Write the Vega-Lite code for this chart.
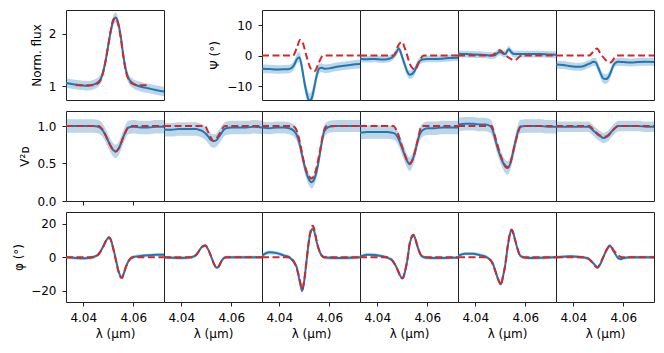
{
"$schema":"https://vega.github.io/schema/vega-lite/v6.json",
"padding":{"left":12,"top":9,"right":5,"bottom":5},
"columns":6,
"spacing":{"row":11,"column":0},
"bounds":"flush",
"config":{"font":"DejaVu Sans","view":{"stroke":"#222","strokeWidth":1},
"axis":{"grid":false,"domain":false,"tickColor":"#222","tickSize":4,"tickWidth":1,"labelColor":"#000","labelFont":"DejaVu Sans","labelFontSize":12,"labelPadding":6,"titleColor":"#000","titleFont":"DejaVu Sans","titleFontSize":12,"titleFontWeight":"normal","titlePadding":5}},
"data":{"values":[
{"p":"F","s":"o","x":4.0331,"y":1.06,"e":0.09},{"p":"F","s":"o","x":4.036,"y":1.04,"e":0.09},{"p":"F","s":"o","x":4.039,"y":1.02,"e":0.09},{"p":"F","s":"o","x":4.042,"y":1.01,"e":0.09},{"p":"F","s":"o","x":4.044,"y":1.03,"e":0.09},{"p":"F","s":"o","x":4.046,"y":1.08,"e":0.09},{"p":"F","s":"o","x":4.047,"y":1.14,"e":0.09},{"p":"F","s":"o","x":4.048,"y":1.28,"e":0.09},{"p":"F","s":"o","x":4.049,"y":1.5,"e":0.09},{"p":"F","s":"o","x":4.05,"y":1.78,"e":0.1},{"p":"F","s":"o","x":4.051,"y":2.05,"e":0.1},{"p":"F","s":"o","x":4.052,"y":2.25,"e":0.1},{"p":"F","s":"o","x":4.053,"y":2.31,"e":0.1},{"p":"F","s":"o","x":4.054,"y":2.2,"e":0.1},{"p":"F","s":"o","x":4.055,"y":1.95,"e":0.1},{"p":"F","s":"o","x":4.056,"y":1.6,"e":0.09},{"p":"F","s":"o","x":4.057,"y":1.32,"e":0.09},{"p":"F","s":"o","x":4.058,"y":1.16,"e":0.09},{"p":"F","s":"o","x":4.06,"y":1.05,"e":0.09},{"p":"F","s":"o","x":4.063,"y":0.99,"e":0.09},{"p":"F","s":"o","x":4.066,"y":0.96,"e":0.09},{"p":"F","s":"o","x":4.069,"y":0.93,"e":0.09},{"p":"F","s":"o","x":4.0723,"y":0.9,"e":0.09},
{"p":"F","s":"f","x":4.037,"y":1.02},{"p":"F","s":"f","x":4.044,"y":1.02},{"p":"F","s":"f","x":4.046,"y":1.06},{"p":"F","s":"f","x":4.047,"y":1.12},{"p":"F","s":"f","x":4.048,"y":1.27},{"p":"F","s":"f","x":4.049,"y":1.5},{"p":"F","s":"f","x":4.05,"y":1.78},{"p":"F","s":"f","x":4.051,"y":2.06},{"p":"F","s":"f","x":4.052,"y":2.26},{"p":"F","s":"f","x":4.053,"y":2.3},{"p":"F","s":"f","x":4.054,"y":2.18},{"p":"F","s":"f","x":4.055,"y":1.92},{"p":"F","s":"f","x":4.056,"y":1.58},{"p":"F","s":"f","x":4.057,"y":1.3},{"p":"F","s":"f","x":4.058,"y":1.14},{"p":"F","s":"f","x":4.06,"y":1.04},{"p":"F","s":"f","x":4.062,"y":1.02},{"p":"F","s":"f","x":4.0667,"y":1.02},
{"p":"P1","s":"o","x":4.0331,"y":-4.3,"e":1.4},{"p":"P1","s":"o","x":4.036,"y":-4.4,"e":1.4},{"p":"P1","s":"o","x":4.039,"y":-4.6,"e":1.4},{"p":"P1","s":"o","x":4.042,"y":-4.5,"e":1.4},{"p":"P1","s":"o","x":4.044,"y":-4.4,"e":1.4},{"p":"P1","s":"o","x":4.046,"y":-3.0,"e":1.5},{"p":"P1","s":"o","x":4.047,"y":-1.2,"e":1.6},{"p":"P1","s":"o","x":4.048,"y":-0.5,"e":1.7},{"p":"P1","s":"o","x":4.049,"y":-3.5,"e":1.9},{"p":"P1","s":"o","x":4.05,"y":-8.5,"e":2.2},{"p":"P1","s":"o","x":4.051,"y":-12.5,"e":2.4},{"p":"P1","s":"o","x":4.052,"y":-14.8,"e":2.4},{"p":"P1","s":"o","x":4.053,"y":-14,"e":2.4},{"p":"P1","s":"o","x":4.054,"y":-10.5,"e":2.2},{"p":"P1","s":"o","x":4.055,"y":-6.5,"e":1.9},{"p":"P1","s":"o","x":4.056,"y":-4.2,"e":1.6},{"p":"P1","s":"o","x":4.057,"y":-4.0,"e":1.4},{"p":"P1","s":"o","x":4.058,"y":-4.3,"e":1.4},{"p":"P1","s":"o","x":4.06,"y":-4.2,"e":1.4},{"p":"P1","s":"o","x":4.063,"y":-3.7,"e":1.4},{"p":"P1","s":"o","x":4.066,"y":-3.3,"e":1.4},{"p":"P1","s":"o","x":4.069,"y":-3.0,"e":1.4},{"p":"P1","s":"o","x":4.0723,"y":-2.8,"e":1.4},
{"p":"P1","s":"f","x":4.0331,"y":0},{"p":"P1","s":"f","x":4.0455,"y":0},{"p":"P1","s":"f","x":4.047,"y":2.5},{"p":"P1","s":"f","x":4.0484,"y":5.2},{"p":"P1","s":"f","x":4.0495,"y":4},{"p":"P1","s":"f","x":4.051,"y":-0.5},{"p":"P1","s":"f","x":4.0528,"y":-4.5},{"p":"P1","s":"f","x":4.0542,"y":-5.1},{"p":"P1","s":"f","x":4.0555,"y":-3},{"p":"P1","s":"f","x":4.0575,"y":0},{"p":"P1","s":"f","x":4.0723,"y":0},
{"p":"P2","s":"o","x":4.0331,"y":-1.0,"e":1.1},{"p":"P2","s":"o","x":4.036,"y":-1.2,"e":1.1},{"p":"P2","s":"o","x":4.039,"y":-1.1,"e":1.1},{"p":"P2","s":"o","x":4.042,"y":-1.3,"e":1.1},{"p":"P2","s":"o","x":4.044,"y":-1.2,"e":1.1},{"p":"P2","s":"o","x":4.046,"y":-0.6,"e":1.1},{"p":"P2","s":"o","x":4.047,"y":0.3,"e":1.2},{"p":"P2","s":"o","x":4.048,"y":1.6,"e":1.2},{"p":"P2","s":"o","x":4.0486,"y":2.3,"e":1.2},{"p":"P2","s":"o","x":4.05,"y":-0.5,"e":1.3},{"p":"P2","s":"o","x":4.051,"y":-3.0,"e":1.4},{"p":"P2","s":"o","x":4.052,"y":-5.3,"e":1.4},{"p":"P2","s":"o","x":4.053,"y":-6.3,"e":1.4},{"p":"P2","s":"o","x":4.054,"y":-6.0,"e":1.4},{"p":"P2","s":"o","x":4.055,"y":-5.0,"e":1.4},{"p":"P2","s":"o","x":4.056,"y":-3.0,"e":1.3},{"p":"P2","s":"o","x":4.057,"y":-1.8,"e":1.2},{"p":"P2","s":"o","x":4.058,"y":-1.3,"e":1.1},{"p":"P2","s":"o","x":4.06,"y":-1.1,"e":1.1},{"p":"P2","s":"o","x":4.063,"y":-1.1,"e":1.1},{"p":"P2","s":"o","x":4.066,"y":-1.0,"e":1.1},{"p":"P2","s":"o","x":4.069,"y":-0.8,"e":1.1},{"p":"P2","s":"o","x":4.0723,"y":-0.7,"e":1.1},
{"p":"P2","s":"f","x":4.0331,"y":0},{"p":"P2","s":"f","x":4.0466,"y":0},{"p":"P2","s":"f","x":4.0485,"y":3.5},{"p":"P2","s":"f","x":4.0499,"y":4.5},{"p":"P2","s":"f","x":4.051,"y":2.5},{"p":"P2","s":"f","x":4.0535,"y":-3.5},{"p":"P2","s":"f","x":4.0552,"y":-4.6},{"p":"P2","s":"f","x":4.057,"y":-1.5},{"p":"P2","s":"f","x":4.0586,"y":0},{"p":"P2","s":"f","x":4.0723,"y":0},
{"p":"P3","s":"o","x":4.0331,"y":0.6,"e":1.1},{"p":"P3","s":"o","x":4.036,"y":0.5,"e":1.1},{"p":"P3","s":"o","x":4.039,"y":0.4,"e":1.1},{"p":"P3","s":"o","x":4.042,"y":0.3,"e":1.1},{"p":"P3","s":"o","x":4.044,"y":0.2,"e":1.1},{"p":"P3","s":"o","x":4.046,"y":0.0,"e":1.1},{"p":"P3","s":"o","x":4.047,"y":0.0,"e":1.1},{"p":"P3","s":"o","x":4.048,"y":0.2,"e":1.1},{"p":"P3","s":"o","x":4.049,"y":0.9,"e":1.1},{"p":"P3","s":"o","x":4.05,"y":1.2,"e":1.1},{"p":"P3","s":"o","x":4.051,"y":0.7,"e":1.1},{"p":"P3","s":"o","x":4.052,"y":0.5,"e":1.1},{"p":"P3","s":"o","x":4.053,"y":1.8,"e":1.1},{"p":"P3","s":"o","x":4.0535,"y":2.1,"e":1.1},{"p":"P3","s":"o","x":4.054,"y":1.6,"e":1.1},{"p":"P3","s":"o","x":4.055,"y":0.7,"e":1.1},{"p":"P3","s":"o","x":4.056,"y":0.5,"e":1.1},{"p":"P3","s":"o","x":4.058,"y":0.5,"e":1.1},{"p":"P3","s":"o","x":4.06,"y":0.5,"e":1.1},{"p":"P3","s":"o","x":4.063,"y":0.5,"e":1.1},{"p":"P3","s":"o","x":4.066,"y":0.5,"e":1.1},{"p":"P3","s":"o","x":4.069,"y":0.4,"e":1.1},{"p":"P3","s":"o","x":4.0723,"y":0.3,"e":1.1},
{"p":"P3","s":"f","x":4.0331,"y":0},{"p":"P3","s":"f","x":4.0464,"y":0},{"p":"P3","s":"f","x":4.0498,"y":1.8},{"p":"P3","s":"f","x":4.052,"y":0.2},{"p":"P3","s":"f","x":4.0558,"y":-1.5},{"p":"P3","s":"f","x":4.0585,"y":0},{"p":"P3","s":"f","x":4.0723,"y":0},
{"p":"P4","s":"o","x":4.0331,"y":-2.9,"e":1.3},{"p":"P4","s":"o","x":4.036,"y":-3.1,"e":1.3},{"p":"P4","s":"o","x":4.039,"y":-3.5,"e":1.3},{"p":"P4","s":"o","x":4.042,"y":-3.7,"e":1.3},{"p":"P4","s":"o","x":4.044,"y":-3.5,"e":1.3},{"p":"P4","s":"o","x":4.046,"y":-2.8,"e":1.3},{"p":"P4","s":"o","x":4.047,"y":-2.5,"e":1.3},{"p":"P4","s":"o","x":4.048,"y":-2.0,"e":1.3},{"p":"P4","s":"o","x":4.049,"y":-2.2,"e":1.4},{"p":"P4","s":"o","x":4.05,"y":-4.0,"e":1.5},{"p":"P4","s":"o","x":4.051,"y":-6.0,"e":1.6},{"p":"P4","s":"o","x":4.052,"y":-7.5,"e":1.6},{"p":"P4","s":"o","x":4.053,"y":-7.7,"e":1.6},{"p":"P4","s":"o","x":4.054,"y":-7.2,"e":1.6},{"p":"P4","s":"o","x":4.055,"y":-5.5,"e":1.5},{"p":"P4","s":"o","x":4.056,"y":-3.3,"e":1.4},{"p":"P4","s":"o","x":4.057,"y":-2.3,"e":1.3},{"p":"P4","s":"o","x":4.058,"y":-2.0,"e":1.3},{"p":"P4","s":"o","x":4.06,"y":-2.1,"e":1.3},{"p":"P4","s":"o","x":4.063,"y":-2.3,"e":1.3},{"p":"P4","s":"o","x":4.066,"y":-2.1,"e":1.3},{"p":"P4","s":"o","x":4.069,"y":-2.0,"e":1.3},{"p":"P4","s":"o","x":4.0723,"y":-2.1,"e":1.3},
{"p":"P4","s":"f","x":4.0331,"y":0},{"p":"P4","s":"f","x":4.0462,"y":0},{"p":"P4","s":"f","x":4.0495,"y":2.3},{"p":"P4","s":"f","x":4.051,"y":0.5},{"p":"P4","s":"f","x":4.0548,"y":-2.3},{"p":"P4","s":"f","x":4.0575,"y":0},{"p":"P4","s":"f","x":4.0723,"y":0},
{"p":"V1","s":"o","x":4.0331,"y":1.0,"e":0.09},{"p":"V1","s":"o","x":4.036,"y":1.0,"e":0.09},{"p":"V1","s":"o","x":4.039,"y":1.0,"e":0.09},{"p":"V1","s":"o","x":4.042,"y":1.0,"e":0.09},{"p":"V1","s":"o","x":4.044,"y":1.0,"e":0.09},{"p":"V1","s":"o","x":4.046,"y":0.99,"e":0.09},{"p":"V1","s":"o","x":4.047,"y":0.97,"e":0.09},{"p":"V1","s":"o","x":4.048,"y":0.93,"e":0.09},{"p":"V1","s":"o","x":4.049,"y":0.87,"e":0.09},{"p":"V1","s":"o","x":4.05,"y":0.8,"e":0.09},{"p":"V1","s":"o","x":4.051,"y":0.73,"e":0.09},{"p":"V1","s":"o","x":4.052,"y":0.68,"e":0.09},{"p":"V1","s":"o","x":4.053,"y":0.66,"e":0.09},{"p":"V1","s":"o","x":4.054,"y":0.69,"e":0.09},{"p":"V1","s":"o","x":4.055,"y":0.76,"e":0.09},{"p":"V1","s":"o","x":4.056,"y":0.85,"e":0.09},{"p":"V1","s":"o","x":4.057,"y":0.93,"e":0.09},{"p":"V1","s":"o","x":4.058,"y":0.98,"e":0.09},{"p":"V1","s":"o","x":4.06,"y":0.99,"e":0.09},{"p":"V1","s":"o","x":4.063,"y":0.98,"e":0.09},{"p":"V1","s":"o","x":4.066,"y":0.98,"e":0.09},{"p":"V1","s":"o","x":4.069,"y":0.99,"e":0.09},{"p":"V1","s":"o","x":4.0723,"y":0.99,"e":0.09},
{"p":"V1","s":"f","x":4.0331,"y":1.0},{"p":"V1","s":"f","x":4.046,"y":1.0},{"p":"V1","s":"f","x":4.048,"y":0.94},{"p":"V1","s":"f","x":4.05,"y":0.8},{"p":"V1","s":"f","x":4.052,"y":0.68},{"p":"V1","s":"f","x":4.053,"y":0.66},{"p":"V1","s":"f","x":4.054,"y":0.69},{"p":"V1","s":"f","x":4.056,"y":0.85},{"p":"V1","s":"f","x":4.058,"y":0.98},{"p":"V1","s":"f","x":4.0595,"y":1.0},{"p":"V1","s":"f","x":4.0723,"y":1.0},
{"p":"V2","s":"o","x":4.0331,"y":0.95,"e":0.09},{"p":"V2","s":"o","x":4.036,"y":0.95,"e":0.09},{"p":"V2","s":"o","x":4.039,"y":0.96,"e":0.09},{"p":"V2","s":"o","x":4.042,"y":0.96,"e":0.09},{"p":"V2","s":"o","x":4.044,"y":0.96,"e":0.09},{"p":"V2","s":"o","x":4.046,"y":0.96,"e":0.09},{"p":"V2","s":"o","x":4.047,"y":0.95,"e":0.09},{"p":"V2","s":"o","x":4.048,"y":0.94,"e":0.09},{"p":"V2","s":"o","x":4.049,"y":0.92,"e":0.09},{"p":"V2","s":"o","x":4.05,"y":0.89,"e":0.09},{"p":"V2","s":"o","x":4.051,"y":0.85,"e":0.09},{"p":"V2","s":"o","x":4.052,"y":0.81,"e":0.09},{"p":"V2","s":"o","x":4.053,"y":0.8,"e":0.09},{"p":"V2","s":"o","x":4.054,"y":0.81,"e":0.09},{"p":"V2","s":"o","x":4.055,"y":0.85,"e":0.09},{"p":"V2","s":"o","x":4.056,"y":0.9,"e":0.09},{"p":"V2","s":"o","x":4.057,"y":0.95,"e":0.09},{"p":"V2","s":"o","x":4.058,"y":0.97,"e":0.09},{"p":"V2","s":"o","x":4.06,"y":0.98,"e":0.09},{"p":"V2","s":"o","x":4.063,"y":0.98,"e":0.09},{"p":"V2","s":"o","x":4.066,"y":0.98,"e":0.09},{"p":"V2","s":"o","x":4.069,"y":0.99,"e":0.09},{"p":"V2","s":"o","x":4.0723,"y":0.98,"e":0.09},
{"p":"V2","s":"f","x":4.0331,"y":1.0},{"p":"V2","s":"f","x":4.0495,"y":1.0},{"p":"V2","s":"f","x":4.051,"y":0.9},{"p":"V2","s":"f","x":4.053,"y":0.8},{"p":"V2","s":"f","x":4.055,"y":0.88},{"p":"V2","s":"f","x":4.0575,"y":1.0},{"p":"V2","s":"f","x":4.0723,"y":1.0},
{"p":"V3","s":"o","x":4.0331,"y":0.98,"e":0.08},{"p":"V3","s":"o","x":4.036,"y":0.97,"e":0.08},{"p":"V3","s":"o","x":4.039,"y":0.98,"e":0.08},{"p":"V3","s":"o","x":4.042,"y":0.98,"e":0.08},{"p":"V3","s":"o","x":4.044,"y":0.97,"e":0.08},{"p":"V3","s":"o","x":4.046,"y":0.93,"e":0.08},{"p":"V3","s":"o","x":4.047,"y":0.88,"e":0.08},{"p":"V3","s":"o","x":4.048,"y":0.78,"e":0.08},{"p":"V3","s":"o","x":4.049,"y":0.63,"e":0.08},{"p":"V3","s":"o","x":4.05,"y":0.48,"e":0.08},{"p":"V3","s":"o","x":4.051,"y":0.36,"e":0.08},{"p":"V3","s":"o","x":4.052,"y":0.28,"e":0.08},{"p":"V3","s":"o","x":4.053,"y":0.25,"e":0.08},{"p":"V3","s":"o","x":4.054,"y":0.29,"e":0.08},{"p":"V3","s":"o","x":4.055,"y":0.4,"e":0.08},{"p":"V3","s":"o","x":4.056,"y":0.58,"e":0.08},{"p":"V3","s":"o","x":4.057,"y":0.78,"e":0.08},{"p":"V3","s":"o","x":4.058,"y":0.93,"e":0.08},{"p":"V3","s":"o","x":4.06,"y":0.99,"e":0.08},{"p":"V3","s":"o","x":4.063,"y":1.0,"e":0.08},{"p":"V3","s":"o","x":4.066,"y":1.0,"e":0.08},{"p":"V3","s":"o","x":4.069,"y":1.0,"e":0.08},{"p":"V3","s":"o","x":4.0723,"y":1.0,"e":0.08},
{"p":"V3","s":"f","x":4.0331,"y":1.0},{"p":"V3","s":"f","x":4.045,"y":1.0},{"p":"V3","s":"f","x":4.0465,"y":0.97},{"p":"V3","s":"f","x":4.048,"y":0.82},{"p":"V3","s":"f","x":4.05,"y":0.5},{"p":"V3","s":"f","x":4.052,"y":0.32},{"p":"V3","s":"f","x":4.053,"y":0.3},{"p":"V3","s":"f","x":4.054,"y":0.34},{"p":"V3","s":"f","x":4.056,"y":0.62},{"p":"V3","s":"f","x":4.058,"y":0.95},{"p":"V3","s":"f","x":4.059,"y":1.0},{"p":"V3","s":"f","x":4.0723,"y":1.0},
{"p":"V4","s":"o","x":4.0331,"y":0.91,"e":0.09},{"p":"V4","s":"o","x":4.036,"y":0.92,"e":0.09},{"p":"V4","s":"o","x":4.039,"y":0.92,"e":0.09},{"p":"V4","s":"o","x":4.042,"y":0.92,"e":0.09},{"p":"V4","s":"o","x":4.044,"y":0.92,"e":0.09},{"p":"V4","s":"o","x":4.046,"y":0.91,"e":0.09},{"p":"V4","s":"o","x":4.047,"y":0.9,"e":0.09},{"p":"V4","s":"o","x":4.048,"y":0.86,"e":0.09},{"p":"V4","s":"o","x":4.049,"y":0.79,"e":0.09},{"p":"V4","s":"o","x":4.05,"y":0.7,"e":0.09},{"p":"V4","s":"o","x":4.051,"y":0.61,"e":0.09},{"p":"V4","s":"o","x":4.052,"y":0.53,"e":0.09},{"p":"V4","s":"o","x":4.053,"y":0.49,"e":0.09},{"p":"V4","s":"o","x":4.054,"y":0.54,"e":0.09},{"p":"V4","s":"o","x":4.055,"y":0.64,"e":0.09},{"p":"V4","s":"o","x":4.056,"y":0.78,"e":0.09},{"p":"V4","s":"o","x":4.057,"y":0.89,"e":0.09},{"p":"V4","s":"o","x":4.058,"y":0.94,"e":0.09},{"p":"V4","s":"o","x":4.06,"y":0.97,"e":0.09},{"p":"V4","s":"o","x":4.063,"y":0.97,"e":0.09},{"p":"V4","s":"o","x":4.066,"y":0.98,"e":0.09},{"p":"V4","s":"o","x":4.069,"y":0.98,"e":0.09},{"p":"V4","s":"o","x":4.0723,"y":0.98,"e":0.09},
{"p":"V4","s":"f","x":4.0331,"y":1.0},{"p":"V4","s":"f","x":4.0464,"y":1.0},{"p":"V4","s":"f","x":4.048,"y":0.92},{"p":"V4","s":"f","x":4.05,"y":0.72},{"p":"V4","s":"f","x":4.052,"y":0.54},{"p":"V4","s":"f","x":4.053,"y":0.5},{"p":"V4","s":"f","x":4.054,"y":0.54},{"p":"V4","s":"f","x":4.056,"y":0.78},{"p":"V4","s":"f","x":4.0578,"y":1.0},{"p":"V4","s":"f","x":4.0723,"y":1.0},
{"p":"V5","s":"o","x":4.0331,"y":1.02,"e":0.09},{"p":"V5","s":"o","x":4.036,"y":1.03,"e":0.09},{"p":"V5","s":"o","x":4.039,"y":1.03,"e":0.09},{"p":"V5","s":"o","x":4.042,"y":1.02,"e":0.09},{"p":"V5","s":"o","x":4.044,"y":1.02,"e":0.09},{"p":"V5","s":"o","x":4.046,"y":1.0,"e":0.09},{"p":"V5","s":"o","x":4.047,"y":0.94,"e":0.09},{"p":"V5","s":"o","x":4.048,"y":0.82,"e":0.09},{"p":"V5","s":"o","x":4.049,"y":0.7,"e":0.09},{"p":"V5","s":"o","x":4.05,"y":0.6,"e":0.09},{"p":"V5","s":"o","x":4.051,"y":0.52,"e":0.09},{"p":"V5","s":"o","x":4.052,"y":0.46,"e":0.09},{"p":"V5","s":"o","x":4.053,"y":0.44,"e":0.09},{"p":"V5","s":"o","x":4.054,"y":0.5,"e":0.09},{"p":"V5","s":"o","x":4.055,"y":0.63,"e":0.09},{"p":"V5","s":"o","x":4.056,"y":0.78,"e":0.09},{"p":"V5","s":"o","x":4.057,"y":0.92,"e":0.09},{"p":"V5","s":"o","x":4.058,"y":0.99,"e":0.09},{"p":"V5","s":"o","x":4.06,"y":1.0,"e":0.09},{"p":"V5","s":"o","x":4.063,"y":1.0,"e":0.09},{"p":"V5","s":"o","x":4.066,"y":1.0,"e":0.09},{"p":"V5","s":"o","x":4.069,"y":0.99,"e":0.09},{"p":"V5","s":"o","x":4.0723,"y":0.99,"e":0.09},
{"p":"V5","s":"f","x":4.0331,"y":1.0},{"p":"V5","s":"f","x":4.0465,"y":1.0},{"p":"V5","s":"f","x":4.048,"y":0.85},{"p":"V5","s":"f","x":4.05,"y":0.62},{"p":"V5","s":"f","x":4.052,"y":0.47},{"p":"V5","s":"f","x":4.053,"y":0.45},{"p":"V5","s":"f","x":4.054,"y":0.5},{"p":"V5","s":"f","x":4.056,"y":0.78},{"p":"V5","s":"f","x":4.0585,"y":1.0},{"p":"V5","s":"f","x":4.0723,"y":1.0},
{"p":"V6","s":"o","x":4.0331,"y":0.99,"e":0.07},{"p":"V6","s":"o","x":4.036,"y":0.99,"e":0.07},{"p":"V6","s":"o","x":4.039,"y":0.99,"e":0.07},{"p":"V6","s":"o","x":4.042,"y":0.99,"e":0.07},{"p":"V6","s":"o","x":4.044,"y":0.99,"e":0.07},{"p":"V6","s":"o","x":4.046,"y":0.99,"e":0.07},{"p":"V6","s":"o","x":4.047,"y":0.97,"e":0.07},{"p":"V6","s":"o","x":4.048,"y":0.94,"e":0.07},{"p":"V6","s":"o","x":4.049,"y":0.91,"e":0.07},{"p":"V6","s":"o","x":4.05,"y":0.88,"e":0.07},{"p":"V6","s":"o","x":4.051,"y":0.86,"e":0.07},{"p":"V6","s":"o","x":4.052,"y":0.84,"e":0.07},{"p":"V6","s":"o","x":4.053,"y":0.85,"e":0.07},{"p":"V6","s":"o","x":4.054,"y":0.87,"e":0.07},{"p":"V6","s":"o","x":4.055,"y":0.91,"e":0.07},{"p":"V6","s":"o","x":4.056,"y":0.95,"e":0.07},{"p":"V6","s":"o","x":4.057,"y":0.98,"e":0.07},{"p":"V6","s":"o","x":4.058,"y":1.0,"e":0.07},{"p":"V6","s":"o","x":4.06,"y":1.0,"e":0.07},{"p":"V6","s":"o","x":4.063,"y":1.0,"e":0.07},{"p":"V6","s":"o","x":4.066,"y":1.0,"e":0.07},{"p":"V6","s":"o","x":4.069,"y":0.99,"e":0.07},{"p":"V6","s":"o","x":4.0723,"y":0.99,"e":0.07},
{"p":"V6","s":"f","x":4.0331,"y":1.0},{"p":"V6","s":"f","x":4.0465,"y":1.0},{"p":"V6","s":"f","x":4.048,"y":0.95},{"p":"V6","s":"f","x":4.05,"y":0.89},{"p":"V6","s":"f","x":4.052,"y":0.86},{"p":"V6","s":"f","x":4.053,"y":0.86},{"p":"V6","s":"f","x":4.054,"y":0.88},{"p":"V6","s":"f","x":4.056,"y":0.95},{"p":"V6","s":"f","x":4.058,"y":1.0},{"p":"V6","s":"f","x":4.0723,"y":1.0},
{"p":"H1","s":"o","x":4.0331,"y":0,"e":1},{"p":"H1","s":"o","x":4.036,"y":-0.3,"e":1},{"p":"H1","s":"o","x":4.039,"y":-0.6,"e":1},{"p":"H1","s":"o","x":4.042,"y":-0.4,"e":1},{"p":"H1","s":"o","x":4.044,"y":0.2,"e":1},{"p":"H1","s":"o","x":4.046,"y":1.8,"e":1},{"p":"H1","s":"o","x":4.047,"y":3.8,"e":1},{"p":"H1","s":"o","x":4.048,"y":6.5,"e":1},{"p":"H1","s":"o","x":4.049,"y":9.5,"e":1},{"p":"H1","s":"o","x":4.05,"y":11.5,"e":1},{"p":"H1","s":"o","x":4.0505,"y":11.6,"e":1},{"p":"H1","s":"o","x":4.051,"y":10.5,"e":1},{"p":"H1","s":"o","x":4.052,"y":5.5,"e":1},{"p":"H1","s":"o","x":4.053,"y":-1,"e":1},{"p":"H1","s":"o","x":4.054,"y":-7.5,"e":1},{"p":"H1","s":"o","x":4.055,"y":-11.5,"e":1},{"p":"H1","s":"o","x":4.0555,"y":-12,"e":1},{"p":"H1","s":"o","x":4.056,"y":-10.5,"e":1},{"p":"H1","s":"o","x":4.057,"y":-6,"e":1},{"p":"H1","s":"o","x":4.058,"y":-2.5,"e":1},{"p":"H1","s":"o","x":4.06,"y":0.2,"e":1},{"p":"H1","s":"o","x":4.063,"y":0.8,"e":1},{"p":"H1","s":"o","x":4.066,"y":1.2,"e":1},{"p":"H1","s":"o","x":4.069,"y":1.5,"e":1},{"p":"H1","s":"o","x":4.0723,"y":1.6,"e":1},
{"p":"H1","s":"f","x":4.0331,"y":0},{"p":"H1","s":"f","x":4.044,"y":0},{"p":"H1","s":"f","x":4.046,"y":1.5},{"p":"H1","s":"f","x":4.048,"y":6.5},{"p":"H1","s":"f","x":4.0495,"y":11},{"p":"H1","s":"f","x":4.0503,"y":12},{"p":"H1","s":"f","x":4.051,"y":10.5},{"p":"H1","s":"f","x":4.052,"y":5},{"p":"H1","s":"f","x":4.053,"y":-1.5},{"p":"H1","s":"f","x":4.054,"y":-8},{"p":"H1","s":"f","x":4.055,"y":-12},{"p":"H1","s":"f","x":4.0555,"y":-12.3},{"p":"H1","s":"f","x":4.056,"y":-10.5},{"p":"H1","s":"f","x":4.057,"y":-6},{"p":"H1","s":"f","x":4.058,"y":-2.5},{"p":"H1","s":"f","x":4.06,"y":0},{"p":"H1","s":"f","x":4.0723,"y":0},
{"p":"H2","s":"o","x":4.0331,"y":0,"e":1},{"p":"H2","s":"o","x":4.036,"y":-0.2,"e":1},{"p":"H2","s":"o","x":4.039,"y":-0.4,"e":1},{"p":"H2","s":"o","x":4.042,"y":-0.3,"e":1},{"p":"H2","s":"o","x":4.044,"y":0,"e":1},{"p":"H2","s":"o","x":4.046,"y":1.5,"e":1},{"p":"H2","s":"o","x":4.047,"y":3.5,"e":1},{"p":"H2","s":"o","x":4.048,"y":5.8,"e":1},{"p":"H2","s":"o","x":4.049,"y":6.8,"e":1},{"p":"H2","s":"o","x":4.0497,"y":7,"e":1},{"p":"H2","s":"o","x":4.05,"y":6.5,"e":1},{"p":"H2","s":"o","x":4.051,"y":4,"e":1},{"p":"H2","s":"o","x":4.052,"y":0.3,"e":1},{"p":"H2","s":"o","x":4.053,"y":-3.5,"e":1},{"p":"H2","s":"o","x":4.054,"y":-6,"e":1},{"p":"H2","s":"o","x":4.0545,"y":-6.1,"e":1},{"p":"H2","s":"o","x":4.055,"y":-5.5,"e":1},{"p":"H2","s":"o","x":4.056,"y":-2.5,"e":1},{"p":"H2","s":"o","x":4.057,"y":-0.5,"e":1},{"p":"H2","s":"o","x":4.058,"y":0,"e":1},{"p":"H2","s":"o","x":4.06,"y":0,"e":1},{"p":"H2","s":"o","x":4.063,"y":0,"e":1},{"p":"H2","s":"o","x":4.066,"y":0,"e":1},{"p":"H2","s":"o","x":4.069,"y":0,"e":1},{"p":"H2","s":"o","x":4.0723,"y":0,"e":1},
{"p":"H2","s":"f","x":4.0331,"y":0},{"p":"H2","s":"f","x":4.044,"y":0},{"p":"H2","s":"f","x":4.046,"y":1.5},{"p":"H2","s":"f","x":4.048,"y":5.8},{"p":"H2","s":"f","x":4.0497,"y":7},{"p":"H2","s":"f","x":4.051,"y":4},{"p":"H2","s":"f","x":4.052,"y":0.3},{"p":"H2","s":"f","x":4.054,"y":-6},{"p":"H2","s":"f","x":4.0545,"y":-6.1},{"p":"H2","s":"f","x":4.056,"y":-2.5},{"p":"H2","s":"f","x":4.058,"y":0},{"p":"H2","s":"f","x":4.0723,"y":0},
{"p":"H3","s":"o","x":4.0331,"y":1,"e":1.1},{"p":"H3","s":"o","x":4.036,"y":3,"e":1.1},{"p":"H3","s":"o","x":4.039,"y":2.5,"e":1.1},{"p":"H3","s":"o","x":4.042,"y":1,"e":1.1},{"p":"H3","s":"o","x":4.044,"y":0,"e":1.1},{"p":"H3","s":"o","x":4.046,"y":-3,"e":1.1},{"p":"H3","s":"o","x":4.047,"y":-6,"e":1.1},{"p":"H3","s":"o","x":4.048,"y":-13,"e":1.1},{"p":"H3","s":"o","x":4.049,"y":-19.5,"e":1.1},{"p":"H3","s":"o","x":4.0492,"y":-20,"e":1.1},{"p":"H3","s":"o","x":4.05,"y":-14,"e":1.1},{"p":"H3","s":"o","x":4.051,"y":-1,"e":1.1},{"p":"H3","s":"o","x":4.052,"y":11,"e":1.1},{"p":"H3","s":"o","x":4.053,"y":16.5,"e":1.1},{"p":"H3","s":"o","x":4.0535,"y":17,"e":1.1},{"p":"H3","s":"o","x":4.054,"y":15.5,"e":1.1},{"p":"H3","s":"o","x":4.055,"y":9,"e":1.1},{"p":"H3","s":"o","x":4.056,"y":4,"e":1.1},{"p":"H3","s":"o","x":4.057,"y":1,"e":1.1},{"p":"H3","s":"o","x":4.058,"y":0,"e":1.1},{"p":"H3","s":"o","x":4.06,"y":-0.3,"e":1.1},{"p":"H3","s":"o","x":4.063,"y":-0.4,"e":1.1},{"p":"H3","s":"o","x":4.066,"y":-0.4,"e":1.1},{"p":"H3","s":"o","x":4.069,"y":-0.2,"e":1.1},{"p":"H3","s":"o","x":4.0723,"y":0,"e":1.1},
{"p":"H3","s":"f","x":4.0331,"y":0},{"p":"H3","s":"f","x":4.044,"y":0},{"p":"H3","s":"f","x":4.046,"y":-3},{"p":"H3","s":"f","x":4.048,"y":-12},{"p":"H3","s":"f","x":4.049,"y":-18.5},{"p":"H3","s":"f","x":4.0492,"y":-19},{"p":"H3","s":"f","x":4.05,"y":-13.5},{"p":"H3","s":"f","x":4.051,"y":-1},{"p":"H3","s":"f","x":4.052,"y":11.5},{"p":"H3","s":"f","x":4.053,"y":18},{"p":"H3","s":"f","x":4.0535,"y":18.8},{"p":"H3","s":"f","x":4.054,"y":17},{"p":"H3","s":"f","x":4.055,"y":9.5},{"p":"H3","s":"f","x":4.056,"y":4},{"p":"H3","s":"f","x":4.057,"y":1},{"p":"H3","s":"f","x":4.058,"y":0},{"p":"H3","s":"f","x":4.0723,"y":0},
{"p":"H4","s":"o","x":4.0331,"y":0.4,"e":1},{"p":"H4","s":"o","x":4.036,"y":1.6,"e":1},{"p":"H4","s":"o","x":4.039,"y":1.4,"e":1},{"p":"H4","s":"o","x":4.042,"y":0.6,"e":1},{"p":"H4","s":"o","x":4.044,"y":-0.2,"e":1},{"p":"H4","s":"o","x":4.046,"y":-1.8,"e":1},{"p":"H4","s":"o","x":4.047,"y":-4,"e":1},{"p":"H4","s":"o","x":4.048,"y":-7,"e":1},{"p":"H4","s":"o","x":4.049,"y":-10.5,"e":1},{"p":"H4","s":"o","x":4.05,"y":-12.4,"e":1},{"p":"H4","s":"o","x":4.0505,"y":-12,"e":1},{"p":"H4","s":"o","x":4.051,"y":-9,"e":1},{"p":"H4","s":"o","x":4.052,"y":-2,"e":1},{"p":"H4","s":"o","x":4.053,"y":8,"e":1},{"p":"H4","s":"o","x":4.054,"y":12.5,"e":1},{"p":"H4","s":"o","x":4.0545,"y":13,"e":1},{"p":"H4","s":"o","x":4.055,"y":12,"e":1},{"p":"H4","s":"o","x":4.056,"y":7,"e":1},{"p":"H4","s":"o","x":4.057,"y":2.5,"e":1},{"p":"H4","s":"o","x":4.058,"y":0.5,"e":1},{"p":"H4","s":"o","x":4.06,"y":-0.3,"e":1},{"p":"H4","s":"o","x":4.063,"y":-0.4,"e":1},{"p":"H4","s":"o","x":4.066,"y":-0.4,"e":1},{"p":"H4","s":"o","x":4.069,"y":-0.3,"e":1},{"p":"H4","s":"o","x":4.0723,"y":-0.2,"e":1},
{"p":"H4","s":"f","x":4.0331,"y":0},{"p":"H4","s":"f","x":4.044,"y":0},{"p":"H4","s":"f","x":4.046,"y":-1.8},{"p":"H4","s":"f","x":4.048,"y":-7},{"p":"H4","s":"f","x":4.05,"y":-12.5},{"p":"H4","s":"f","x":4.051,"y":-9},{"p":"H4","s":"f","x":4.052,"y":-2},{"p":"H4","s":"f","x":4.053,"y":8.5},{"p":"H4","s":"f","x":4.0545,"y":13.5},{"p":"H4","s":"f","x":4.056,"y":7},{"p":"H4","s":"f","x":4.058,"y":0.5},{"p":"H4","s":"f","x":4.06,"y":0},{"p":"H4","s":"f","x":4.0723,"y":0},
{"p":"H5","s":"o","x":4.0331,"y":1,"e":1},{"p":"H5","s":"o","x":4.036,"y":2.2,"e":1},{"p":"H5","s":"o","x":4.039,"y":2.2,"e":1},{"p":"H5","s":"o","x":4.042,"y":1.3,"e":1},{"p":"H5","s":"o","x":4.044,"y":0.5,"e":1},{"p":"H5","s":"o","x":4.046,"y":-1.5,"e":1},{"p":"H5","s":"o","x":4.047,"y":-3.5,"e":1},{"p":"H5","s":"o","x":4.048,"y":-8,"e":1},{"p":"H5","s":"o","x":4.049,"y":-12.5,"e":1},{"p":"H5","s":"o","x":4.05,"y":-15.5,"e":1},{"p":"H5","s":"o","x":4.0503,"y":-16,"e":1},{"p":"H5","s":"o","x":4.051,"y":-12,"e":1},{"p":"H5","s":"o","x":4.052,"y":-4.5,"e":1},{"p":"H5","s":"o","x":4.053,"y":6.5,"e":1},{"p":"H5","s":"o","x":4.054,"y":14.5,"e":1},{"p":"H5","s":"o","x":4.0545,"y":16.4,"e":1},{"p":"H5","s":"o","x":4.055,"y":15.5,"e":1},{"p":"H5","s":"o","x":4.056,"y":10,"e":1},{"p":"H5","s":"o","x":4.057,"y":4.5,"e":1},{"p":"H5","s":"o","x":4.058,"y":1,"e":1},{"p":"H5","s":"o","x":4.06,"y":-0.3,"e":1},{"p":"H5","s":"o","x":4.063,"y":-0.4,"e":1},{"p":"H5","s":"o","x":4.066,"y":-0.3,"e":1},{"p":"H5","s":"o","x":4.069,"y":-0.1,"e":1},{"p":"H5","s":"o","x":4.0723,"y":0,"e":1},
{"p":"H5","s":"f","x":4.0331,"y":0},{"p":"H5","s":"f","x":4.044,"y":0},{"p":"H5","s":"f","x":4.046,"y":-1.5},{"p":"H5","s":"f","x":4.048,"y":-8},{"p":"H5","s":"f","x":4.05,"y":-16},{"p":"H5","s":"f","x":4.0503,"y":-16.6},{"p":"H5","s":"f","x":4.051,"y":-12},{"p":"H5","s":"f","x":4.052,"y":-4.5},{"p":"H5","s":"f","x":4.053,"y":7},{"p":"H5","s":"f","x":4.0545,"y":16.5},{"p":"H5","s":"f","x":4.056,"y":10},{"p":"H5","s":"f","x":4.058,"y":1},{"p":"H5","s":"f","x":4.06,"y":0},{"p":"H5","s":"f","x":4.0723,"y":0},
{"p":"H6","s":"o","x":4.0331,"y":0,"e":1},{"p":"H6","s":"o","x":4.036,"y":0.4,"e":1},{"p":"H6","s":"o","x":4.039,"y":0.6,"e":1},{"p":"H6","s":"o","x":4.042,"y":0.3,"e":1},{"p":"H6","s":"o","x":4.044,"y":0,"e":1},{"p":"H6","s":"o","x":4.046,"y":-0.8,"e":1},{"p":"H6","s":"o","x":4.047,"y":-2,"e":1},{"p":"H6","s":"o","x":4.048,"y":-3.5,"e":1},{"p":"H6","s":"o","x":4.049,"y":-5.2,"e":1},{"p":"H6","s":"o","x":4.0496,"y":-6,"e":1},{"p":"H6","s":"o","x":4.05,"y":-5.8,"e":1},{"p":"H6","s":"o","x":4.051,"y":-3.5,"e":1},{"p":"H6","s":"o","x":4.052,"y":0,"e":1},{"p":"H6","s":"o","x":4.053,"y":3.5,"e":1},{"p":"H6","s":"o","x":4.054,"y":6,"e":1},{"p":"H6","s":"o","x":4.0546,"y":7,"e":1},{"p":"H6","s":"o","x":4.055,"y":6.5,"e":1},{"p":"H6","s":"o","x":4.056,"y":4,"e":1},{"p":"H6","s":"o","x":4.057,"y":1.5,"e":1},{"p":"H6","s":"o","x":4.058,"y":-0.5,"e":1},{"p":"H6","s":"o","x":4.059,"y":-1,"e":1},{"p":"H6","s":"o","x":4.06,"y":-0.5,"e":1},{"p":"H6","s":"o","x":4.063,"y":0,"e":1},{"p":"H6","s":"o","x":4.066,"y":0,"e":1},{"p":"H6","s":"o","x":4.069,"y":0,"e":1},{"p":"H6","s":"o","x":4.0723,"y":0,"e":1},
{"p":"H6","s":"f","x":4.0331,"y":0},{"p":"H6","s":"f","x":4.045,"y":0},{"p":"H6","s":"f","x":4.047,"y":-2},{"p":"H6","s":"f","x":4.049,"y":-5.5},{"p":"H6","s":"f","x":4.0496,"y":-6},{"p":"H6","s":"f","x":4.051,"y":-3},{"p":"H6","s":"f","x":4.052,"y":0.3},{"p":"H6","s":"f","x":4.054,"y":6},{"p":"H6","s":"f","x":4.0548,"y":7},{"p":"H6","s":"f","x":4.056,"y":4.5},{"p":"H6","s":"f","x":4.0575,"y":2},{"p":"H6","s":"f","x":4.059,"y":0.3},{"p":"H6","s":"f","x":4.06,"y":0},{"p":"H6","s":"f","x":4.0723,"y":0}
]},
"concat":[
{"width":98,"height":90,"transform":[{"filter":"datum.p=='F'"}],
"encoding":{"x":{"field":"x","type":"quantitative","scale":{"domain":[4.0331,4.0723],"nice":false,"zero":false},"axis":null},"y":{"field":"y","type":"quantitative","scale":{"domain":[0.738,2.453],"nice":false,"zero":false},"axis":{"title":"Norm. flux","values":[1,2],"format":"d"}}},
"layer":[
{"transform":[{"filter":"datum.s=='o'"}],"mark":{"type":"errorband","color":"#1f77b4","opacity":0.3,"interpolate":"monotone","clip":true},"encoding":{"yError":{"field":"e"}}},
{"transform":[{"filter":"datum.s=='o'"}],"mark":{"type":"line","color":"#1f77b4","strokeWidth":2,"interpolate":"monotone","clip":true},"encoding":{}},
{"transform":[{"filter":"datum.s=='f'"}],"mark":{"type":"line","color":"#d62728","strokeWidth":2,"strokeDash":[7,3.5],"interpolate":"monotone","clip":true},"encoding":{}}]},
{"width":98,"height":90,"view":{"stroke":null},"transform":[{"filter":"false"}],"mark":{"type":"point","opacity":0},"encoding":{}},
{"width":98,"height":90,"transform":[{"filter":"datum.p=='P1'"}],
"encoding":{"x":{"field":"x","type":"quantitative","scale":{"domain":[4.0331,4.0723],"nice":false,"zero":false},"axis":null},"y":{"field":"y","type":"quantitative","scale":{"domain":[-14.6,15],"nice":false,"zero":false},"axis":{"title":"Ψ (°)","values":[-10,0,10]}}},
"layer":[
{"transform":[{"filter":"datum.s=='o'"}],"mark":{"type":"errorband","color":"#1f77b4","opacity":0.3,"interpolate":"monotone","clip":true},"encoding":{"yError":{"field":"e"}}},
{"transform":[{"filter":"datum.s=='o'"}],"mark":{"type":"line","color":"#1f77b4","strokeWidth":2,"interpolate":"monotone","clip":true},"encoding":{}},
{"transform":[{"filter":"datum.s=='f'"}],"mark":{"type":"line","color":"#d62728","strokeWidth":2,"strokeDash":[7,3.5],"interpolate":"monotone","clip":true},"encoding":{}}]},
{"width":98,"height":90,"transform":[{"filter":"datum.p=='P2'"}],
"encoding":{"x":{"field":"x","type":"quantitative","scale":{"domain":[4.0331,4.0723],"nice":false,"zero":false},"axis":null},"y":{"field":"y","type":"quantitative","scale":{"domain":[-14.6,15],"nice":false,"zero":false},"axis":null}},
"layer":[
{"transform":[{"filter":"datum.s=='o'"}],"mark":{"type":"errorband","color":"#1f77b4","opacity":0.3,"interpolate":"monotone","clip":true},"encoding":{"yError":{"field":"e"}}},
{"transform":[{"filter":"datum.s=='o'"}],"mark":{"type":"line","color":"#1f77b4","strokeWidth":2,"interpolate":"monotone","clip":true},"encoding":{}},
{"transform":[{"filter":"datum.s=='f'"}],"mark":{"type":"line","color":"#d62728","strokeWidth":2,"strokeDash":[7,3.5],"interpolate":"monotone","clip":true},"encoding":{}}]},
{"width":98,"height":90,"transform":[{"filter":"datum.p=='P3'"}],
"encoding":{"x":{"field":"x","type":"quantitative","scale":{"domain":[4.0331,4.0723],"nice":false,"zero":false},"axis":null},"y":{"field":"y","type":"quantitative","scale":{"domain":[-14.6,15],"nice":false,"zero":false},"axis":null}},
"layer":[
{"transform":[{"filter":"datum.s=='o'"}],"mark":{"type":"errorband","color":"#1f77b4","opacity":0.3,"interpolate":"monotone","clip":true},"encoding":{"yError":{"field":"e"}}},
{"transform":[{"filter":"datum.s=='o'"}],"mark":{"type":"line","color":"#1f77b4","strokeWidth":2,"interpolate":"monotone","clip":true},"encoding":{}},
{"transform":[{"filter":"datum.s=='f'"}],"mark":{"type":"line","color":"#d62728","strokeWidth":2,"strokeDash":[7,3.5],"interpolate":"monotone","clip":true},"encoding":{}}]},
{"width":98,"height":90,"transform":[{"filter":"datum.p=='P4'"}],
"encoding":{"x":{"field":"x","type":"quantitative","scale":{"domain":[4.0331,4.0723],"nice":false,"zero":false},"axis":null},"y":{"field":"y","type":"quantitative","scale":{"domain":[-14.6,15],"nice":false,"zero":false},"axis":null}},
"layer":[
{"transform":[{"filter":"datum.s=='o'"}],"mark":{"type":"errorband","color":"#1f77b4","opacity":0.3,"interpolate":"monotone","clip":true},"encoding":{"yError":{"field":"e"}}},
{"transform":[{"filter":"datum.s=='o'"}],"mark":{"type":"line","color":"#1f77b4","strokeWidth":2,"interpolate":"monotone","clip":true},"encoding":{}},
{"transform":[{"filter":"datum.s=='f'"}],"mark":{"type":"line","color":"#d62728","strokeWidth":2,"strokeDash":[7,3.5],"interpolate":"monotone","clip":true},"encoding":{}}]},
{"width":98,"height":90,"transform":[{"filter":"datum.p=='V1'"}],
"encoding":{"x":{"field":"x","type":"quantitative","scale":{"domain":[4.0331,4.0723],"nice":false,"zero":false},"axis":{"values":[4.04,4.06],"labels":false,"title":null}},"y":{"field":"y","type":"quantitative","scale":{"domain":[0,1.2],"nice":false,"zero":false},"axis":{"title":"V²ᴅ","values":[0,0.5,1],"format":".1f"}}},
"layer":[
{"transform":[{"filter":"datum.s=='o'"}],"mark":{"type":"errorband","color":"#1f77b4","opacity":0.3,"interpolate":"monotone","clip":true},"encoding":{"yError":{"field":"e"}}},
{"transform":[{"filter":"datum.s=='o'"}],"mark":{"type":"line","color":"#1f77b4","strokeWidth":2,"interpolate":"monotone","clip":true},"encoding":{}},
{"transform":[{"filter":"datum.s=='f'"}],"mark":{"type":"line","color":"#d62728","strokeWidth":2,"strokeDash":[7,3.5],"interpolate":"monotone","clip":true},"encoding":{}}]},
{"width":98,"height":90,"transform":[{"filter":"datum.p=='V2'"}],
"encoding":{"x":{"field":"x","type":"quantitative","scale":{"domain":[4.0331,4.0723],"nice":false,"zero":false},"axis":null},"y":{"field":"y","type":"quantitative","scale":{"domain":[0,1.2],"nice":false,"zero":false},"axis":null}},
"layer":[
{"transform":[{"filter":"datum.s=='o'"}],"mark":{"type":"errorband","color":"#1f77b4","opacity":0.3,"interpolate":"monotone","clip":true},"encoding":{"yError":{"field":"e"}}},
{"transform":[{"filter":"datum.s=='o'"}],"mark":{"type":"line","color":"#1f77b4","strokeWidth":2,"interpolate":"monotone","clip":true},"encoding":{}},
{"transform":[{"filter":"datum.s=='f'"}],"mark":{"type":"line","color":"#d62728","strokeWidth":2,"strokeDash":[7,3.5],"interpolate":"monotone","clip":true},"encoding":{}}]},
{"width":98,"height":90,"transform":[{"filter":"datum.p=='V3'"}],
"encoding":{"x":{"field":"x","type":"quantitative","scale":{"domain":[4.0331,4.0723],"nice":false,"zero":false},"axis":null},"y":{"field":"y","type":"quantitative","scale":{"domain":[0,1.2],"nice":false,"zero":false},"axis":null}},
"layer":[
{"transform":[{"filter":"datum.s=='o'"}],"mark":{"type":"errorband","color":"#1f77b4","opacity":0.3,"interpolate":"monotone","clip":true},"encoding":{"yError":{"field":"e"}}},
{"transform":[{"filter":"datum.s=='o'"}],"mark":{"type":"line","color":"#1f77b4","strokeWidth":2,"interpolate":"monotone","clip":true},"encoding":{}},
{"transform":[{"filter":"datum.s=='f'"}],"mark":{"type":"line","color":"#d62728","strokeWidth":2,"strokeDash":[7,3.5],"interpolate":"monotone","clip":true},"encoding":{}}]},
{"width":98,"height":90,"transform":[{"filter":"datum.p=='V4'"}],
"encoding":{"x":{"field":"x","type":"quantitative","scale":{"domain":[4.0331,4.0723],"nice":false,"zero":false},"axis":null},"y":{"field":"y","type":"quantitative","scale":{"domain":[0,1.2],"nice":false,"zero":false},"axis":null}},
"layer":[
{"transform":[{"filter":"datum.s=='o'"}],"mark":{"type":"errorband","color":"#1f77b4","opacity":0.3,"interpolate":"monotone","clip":true},"encoding":{"yError":{"field":"e"}}},
{"transform":[{"filter":"datum.s=='o'"}],"mark":{"type":"line","color":"#1f77b4","strokeWidth":2,"interpolate":"monotone","clip":true},"encoding":{}},
{"transform":[{"filter":"datum.s=='f'"}],"mark":{"type":"line","color":"#d62728","strokeWidth":2,"strokeDash":[7,3.5],"interpolate":"monotone","clip":true},"encoding":{}}]},
{"width":98,"height":90,"transform":[{"filter":"datum.p=='V5'"}],
"encoding":{"x":{"field":"x","type":"quantitative","scale":{"domain":[4.0331,4.0723],"nice":false,"zero":false},"axis":null},"y":{"field":"y","type":"quantitative","scale":{"domain":[0,1.2],"nice":false,"zero":false},"axis":null}},
"layer":[
{"transform":[{"filter":"datum.s=='o'"}],"mark":{"type":"errorband","color":"#1f77b4","opacity":0.3,"interpolate":"monotone","clip":true},"encoding":{"yError":{"field":"e"}}},
{"transform":[{"filter":"datum.s=='o'"}],"mark":{"type":"line","color":"#1f77b4","strokeWidth":2,"interpolate":"monotone","clip":true},"encoding":{}},
{"transform":[{"filter":"datum.s=='f'"}],"mark":{"type":"line","color":"#d62728","strokeWidth":2,"strokeDash":[7,3.5],"interpolate":"monotone","clip":true},"encoding":{}}]},
{"width":98,"height":90,"transform":[{"filter":"datum.p=='V6'"}],
"encoding":{"x":{"field":"x","type":"quantitative","scale":{"domain":[4.0331,4.0723],"nice":false,"zero":false},"axis":null},"y":{"field":"y","type":"quantitative","scale":{"domain":[0,1.2],"nice":false,"zero":false},"axis":null}},
"layer":[
{"transform":[{"filter":"datum.s=='o'"}],"mark":{"type":"errorband","color":"#1f77b4","opacity":0.3,"interpolate":"monotone","clip":true},"encoding":{"yError":{"field":"e"}}},
{"transform":[{"filter":"datum.s=='o'"}],"mark":{"type":"line","color":"#1f77b4","strokeWidth":2,"interpolate":"monotone","clip":true},"encoding":{}},
{"transform":[{"filter":"datum.s=='f'"}],"mark":{"type":"line","color":"#d62728","strokeWidth":2,"strokeDash":[7,3.5],"interpolate":"monotone","clip":true},"encoding":{}}]},
{"width":98,"height":90,"transform":[{"filter":"datum.p=='H1'"}],
"encoding":{"x":{"field":"x","type":"quantitative","scale":{"domain":[4.0331,4.0723],"nice":false,"zero":false},"axis":{"values":[4.04,4.06],"format":".2f","title":"λ (μm)"}},"y":{"field":"y","type":"quantitative","scale":{"domain":[-26.6,27],"nice":false,"zero":false},"axis":{"title":"φ (°)","values":[-20,0,20]}}},
"layer":[
{"transform":[{"filter":"datum.s=='o'"}],"mark":{"type":"errorband","color":"#1f77b4","opacity":0.3,"interpolate":"monotone","clip":true},"encoding":{"yError":{"field":"e"}}},
{"transform":[{"filter":"datum.s=='o'"}],"mark":{"type":"line","color":"#1f77b4","strokeWidth":2,"interpolate":"monotone","clip":true},"encoding":{}},
{"transform":[{"filter":"datum.s=='f'"}],"mark":{"type":"line","color":"#d62728","strokeWidth":2,"strokeDash":[7,3.5],"interpolate":"monotone","clip":true},"encoding":{}}]},
{"width":98,"height":90,"transform":[{"filter":"datum.p=='H2'"}],
"encoding":{"x":{"field":"x","type":"quantitative","scale":{"domain":[4.0331,4.0723],"nice":false,"zero":false},"axis":{"values":[4.04,4.06],"format":".2f","title":"λ (μm)"}},"y":{"field":"y","type":"quantitative","scale":{"domain":[-26.6,27],"nice":false,"zero":false},"axis":null}},
"layer":[
{"transform":[{"filter":"datum.s=='o'"}],"mark":{"type":"errorband","color":"#1f77b4","opacity":0.3,"interpolate":"monotone","clip":true},"encoding":{"yError":{"field":"e"}}},
{"transform":[{"filter":"datum.s=='o'"}],"mark":{"type":"line","color":"#1f77b4","strokeWidth":2,"interpolate":"monotone","clip":true},"encoding":{}},
{"transform":[{"filter":"datum.s=='f'"}],"mark":{"type":"line","color":"#d62728","strokeWidth":2,"strokeDash":[7,3.5],"interpolate":"monotone","clip":true},"encoding":{}}]},
{"width":98,"height":90,"transform":[{"filter":"datum.p=='H3'"}],
"encoding":{"x":{"field":"x","type":"quantitative","scale":{"domain":[4.0331,4.0723],"nice":false,"zero":false},"axis":{"values":[4.04,4.06],"format":".2f","title":"λ (μm)"}},"y":{"field":"y","type":"quantitative","scale":{"domain":[-26.6,27],"nice":false,"zero":false},"axis":null}},
"layer":[
{"transform":[{"filter":"datum.s=='o'"}],"mark":{"type":"errorband","color":"#1f77b4","opacity":0.3,"interpolate":"monotone","clip":true},"encoding":{"yError":{"field":"e"}}},
{"transform":[{"filter":"datum.s=='o'"}],"mark":{"type":"line","color":"#1f77b4","strokeWidth":2,"interpolate":"monotone","clip":true},"encoding":{}},
{"transform":[{"filter":"datum.s=='f'"}],"mark":{"type":"line","color":"#d62728","strokeWidth":2,"strokeDash":[7,3.5],"interpolate":"monotone","clip":true},"encoding":{}}]},
{"width":98,"height":90,"transform":[{"filter":"datum.p=='H4'"}],
"encoding":{"x":{"field":"x","type":"quantitative","scale":{"domain":[4.0331,4.0723],"nice":false,"zero":false},"axis":{"values":[4.04,4.06],"format":".2f","title":"λ (μm)"}},"y":{"field":"y","type":"quantitative","scale":{"domain":[-26.6,27],"nice":false,"zero":false},"axis":null}},
"layer":[
{"transform":[{"filter":"datum.s=='o'"}],"mark":{"type":"errorband","color":"#1f77b4","opacity":0.3,"interpolate":"monotone","clip":true},"encoding":{"yError":{"field":"e"}}},
{"transform":[{"filter":"datum.s=='o'"}],"mark":{"type":"line","color":"#1f77b4","strokeWidth":2,"interpolate":"monotone","clip":true},"encoding":{}},
{"transform":[{"filter":"datum.s=='f'"}],"mark":{"type":"line","color":"#d62728","strokeWidth":2,"strokeDash":[7,3.5],"interpolate":"monotone","clip":true},"encoding":{}}]},
{"width":98,"height":90,"transform":[{"filter":"datum.p=='H5'"}],
"encoding":{"x":{"field":"x","type":"quantitative","scale":{"domain":[4.0331,4.0723],"nice":false,"zero":false},"axis":{"values":[4.04,4.06],"format":".2f","title":"λ (μm)"}},"y":{"field":"y","type":"quantitative","scale":{"domain":[-26.6,27],"nice":false,"zero":false},"axis":null}},
"layer":[
{"transform":[{"filter":"datum.s=='o'"}],"mark":{"type":"errorband","color":"#1f77b4","opacity":0.3,"interpolate":"monotone","clip":true},"encoding":{"yError":{"field":"e"}}},
{"transform":[{"filter":"datum.s=='o'"}],"mark":{"type":"line","color":"#1f77b4","strokeWidth":2,"interpolate":"monotone","clip":true},"encoding":{}},
{"transform":[{"filter":"datum.s=='f'"}],"mark":{"type":"line","color":"#d62728","strokeWidth":2,"strokeDash":[7,3.5],"interpolate":"monotone","clip":true},"encoding":{}}]},
{"width":98,"height":90,"transform":[{"filter":"datum.p=='H6'"}],
"encoding":{"x":{"field":"x","type":"quantitative","scale":{"domain":[4.0331,4.0723],"nice":false,"zero":false},"axis":{"values":[4.04,4.06],"format":".2f","title":"λ (μm)"}},"y":{"field":"y","type":"quantitative","scale":{"domain":[-26.6,27],"nice":false,"zero":false},"axis":null}},
"layer":[
{"transform":[{"filter":"datum.s=='o'"}],"mark":{"type":"errorband","color":"#1f77b4","opacity":0.3,"interpolate":"monotone","clip":true},"encoding":{"yError":{"field":"e"}}},
{"transform":[{"filter":"datum.s=='o'"}],"mark":{"type":"line","color":"#1f77b4","strokeWidth":2,"interpolate":"monotone","clip":true},"encoding":{}},
{"transform":[{"filter":"datum.s=='f'"}],"mark":{"type":"line","color":"#d62728","strokeWidth":2,"strokeDash":[7,3.5],"interpolate":"monotone","clip":true},"encoding":{}}]}
]
}
